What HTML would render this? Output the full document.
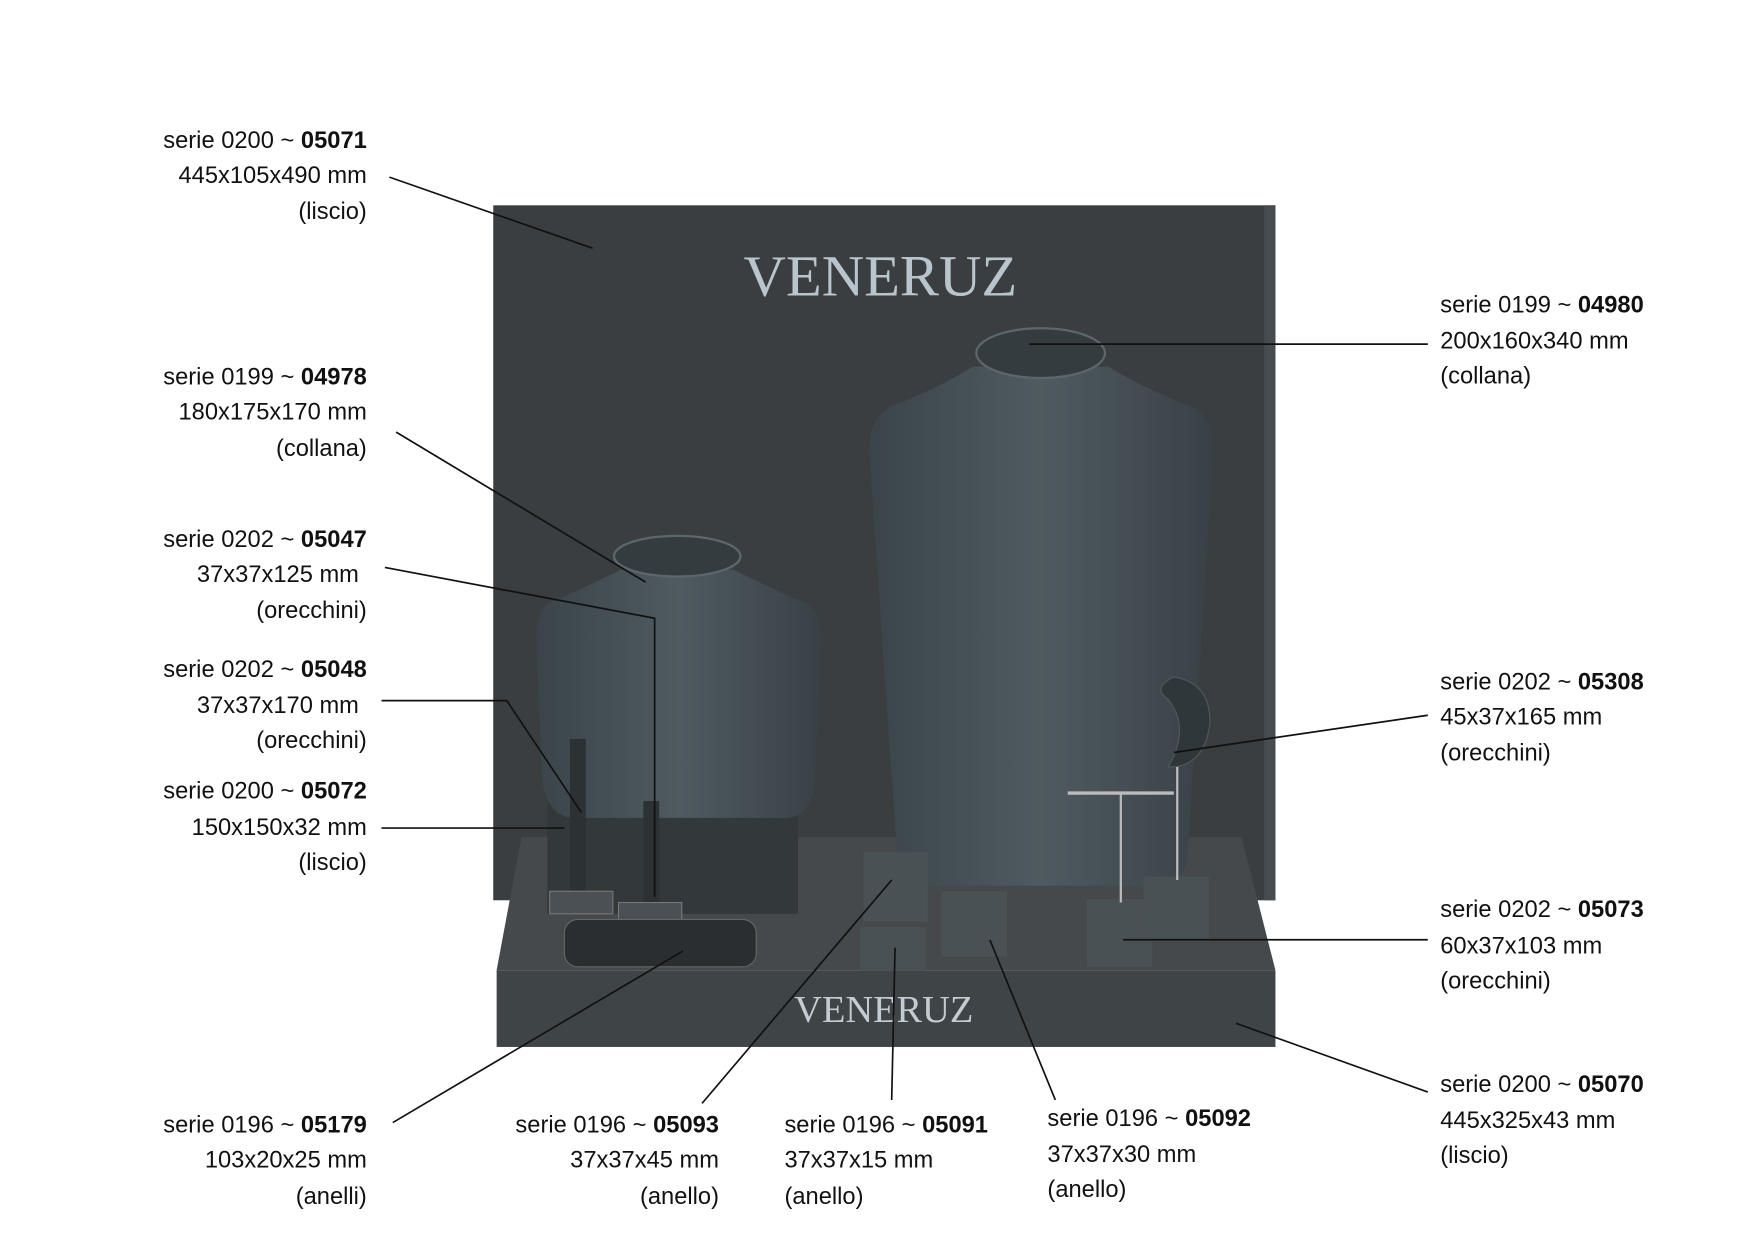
<!DOCTYPE html>
<html><head><meta charset="utf-8"><style>
html,body{margin:0;padding:0;background:#fff;}
svg{display:block;}
text{font-family:"Liberation Sans",sans-serif;font-size:21px;fill:#111;}
.b{font-weight:bold;}
.r{text-anchor:end;}
</style></head><body>
<svg width="1754" height="1241" viewBox="0 0 1554 1100" preserveAspectRatio="none" xmlns="http://www.w3.org/2000/svg">
<defs>
<linearGradient id="bust" x1="0" x2="1" y1="0" y2="0">
<stop offset="0" stop-color="#3a4449"/><stop offset="0.5" stop-color="#4f5a61"/><stop offset="1" stop-color="#384146"/>
</linearGradient>
</defs>
<rect x="437" y="182" width="693" height="616" fill="#3a3e40"/>
<rect x="1120" y="182" width="10" height="616" fill="#464c4f"/>
<text x="780" y="262" style="font-family:'Liberation Serif',serif;font-size:52px;fill:#b9c5cc" text-anchor="middle">VENERUZ</text>
<polygon points="462,742 1100,742 1130,860 440,860" fill="#45494b"/>
<rect x="440" y="860" width="690" height="68" fill="#3f4446"/>
<text x="783" y="906" style="font-family:'Liberation Serif',serif;font-size:34px;fill:#c3ccd2" text-anchor="middle">VENERUZ</text>
<rect x="485" y="710" width="222" height="100" fill="#33383a"/>
<path d="M862,325 Q830,345 790,360 Q770,370 770,400 L795,760 Q800,785 830,785 L1020,785 Q1050,785 1052,760 L1075,400 Q1075,370 1055,360 Q1015,345 982,325 Z" fill="url(#bust)"/>
<ellipse cx="922" cy="313" rx="57" ry="22" fill="#353c3f" stroke="#5c666b" stroke-width="2"/>
<path d="M550,505 Q510,525 485,535 Q475,545 475,565 L480,690 Q485,725 510,725 L695,725 Q720,725 722,690 L728,565 Q728,545 715,535 Q690,525 650,505 Z" fill="url(#bust)"/>
<ellipse cx="600" cy="493" rx="56" ry="18" fill="#353c3f" stroke="#5c666b" stroke-width="2"/>
<rect x="505" y="655" width="14" height="140" fill="#2c3133"/>
<rect x="570" y="710" width="14" height="90" fill="#2c3133"/>
<rect x="487" y="790" width="56" height="20" fill="#4a5053" stroke="#777"/>
<rect x="548" y="800" width="56" height="18" fill="#4a5053" stroke="#777"/>
<rect x="500" y="815" width="170" height="42" rx="12" fill="#2a2e30" stroke="#666"/>
<rect x="765" y="755" width="57" height="62" fill="#4a5155"/>
<rect x="762" y="822" width="58" height="38" fill="#4a5155"/>
<rect x="834" y="790" width="58" height="58" fill="#4a5155"/>
<rect x="963" y="797" width="58" height="60" fill="#4a5155"/>
<rect x="1013" y="777" width="58" height="57" fill="#4a5155"/>
<line x1="946" y1="703" x2="1040" y2="703" stroke="#bbb" stroke-width="3"/>
<line x1="993" y1="703" x2="993" y2="800" stroke="#bbb" stroke-width="2"/>
<line x1="1043" y1="670" x2="1043" y2="780" stroke="#bbb" stroke-width="2"/>
<path d="M1040,600 Q1072,605 1072,640 Q1068,680 1035,680 Q1055,645 1035,620 Q1020,610 1040,600Z" fill="#30373a" stroke="#4f585c"/>
<g stroke="#111" stroke-width="1.5" fill="none">
<polyline points="345,157 525,220"/>
<polyline points="351,383 572,516"/>
<polyline points="341,503 580,548 580,795"/>
<polyline points="338,621 449,621 515,720"/>
<polyline points="338,734 500,734"/>
<polyline points="912,305 1265,305"/>
<polyline points="1265,634 1040,667"/>
<polyline points="1265,833 995,833"/>
<polyline points="1265,968 1095,907"/>
<polyline points="348,995 605,843"/>
<polyline points="622,978 790,780"/>
<polyline points="790,975 793,840"/>
<polyline points="935,975 877,833"/>
</g>
<text class="r" x="325" y="131">serie 0200 ~ <tspan class="b">05071</tspan></text>
<text class="r" x="325" y="162">445x105x490 mm</text>
<text class="r" x="325" y="194">(liscio)</text>
<text class="r" x="325" y="341">serie 0199 ~ <tspan class="b">04978</tspan></text>
<text class="r" x="325" y="372">180x175x170 mm</text>
<text class="r" x="325" y="404">(collana)</text>
<text class="r" x="325" y="485">serie 0202 ~ <tspan class="b">05047</tspan></text>
<text class="r" x="318" y="516">37x37x125 mm</text>
<text class="r" x="325" y="548">(orecchini)</text>
<text class="r" x="325" y="600">serie 0202 ~ <tspan class="b">05048</tspan></text>
<text class="r" x="318" y="632">37x37x170 mm</text>
<text class="r" x="325" y="663">(orecchini)</text>
<text class="r" x="325" y="708">serie 0200 ~ <tspan class="b">05072</tspan></text>
<text class="r" x="325" y="740">150x150x32 mm</text>
<text class="r" x="325" y="771">(liscio)</text>
<text x="1276" y="277">serie 0199 ~ <tspan class="b">04980</tspan></text>
<text x="1276" y="309">200x160x340 mm</text>
<text x="1276" y="340">(collana)</text>
<text x="1276" y="611">serie 0202 ~ <tspan class="b">05308</tspan></text>
<text x="1276" y="642">45x37x165 mm</text>
<text x="1276" y="674">(orecchini)</text>
<text x="1276" y="813">serie 0202 ~ <tspan class="b">05073</tspan></text>
<text x="1276" y="845">60x37x103 mm</text>
<text x="1276" y="876">(orecchini)</text>
<text x="1276" y="968">serie 0200 ~ <tspan class="b">05070</tspan></text>
<text x="1276" y="1000">445x325x43 mm</text>
<text x="1276" y="1031">(liscio)</text>
<text class="r" x="325" y="1004">serie 0196 ~ <tspan class="b">05179</tspan></text>
<text class="r" x="325" y="1035">103x20x25 mm</text>
<text class="r" x="325" y="1067">(anelli)</text>
<text class="r" x="637" y="1004">serie 0196 ~ <tspan class="b">05093</tspan></text>
<text class="r" x="637" y="1035">37x37x45 mm</text>
<text class="r" x="637" y="1067">(anello)</text>
<text x="695" y="1004">serie 0196 ~ <tspan class="b">05091</tspan></text>
<text x="695" y="1035">37x37x15 mm</text>
<text x="695" y="1067">(anello)</text>
<text x="928" y="998">serie 0196 ~ <tspan class="b">05092</tspan></text>
<text x="928" y="1030">37x37x30 mm</text>
<text x="928" y="1061">(anello)</text>
</svg>
</body></html>
